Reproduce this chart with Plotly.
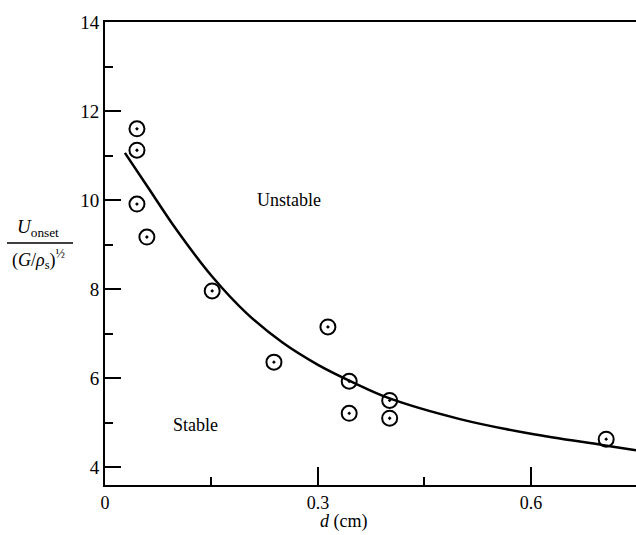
import plotly.graph_objects as go

# Measured data points
d_pts = [0.045, 0.045, 0.045, 0.059, 0.151, 0.238, 0.314, 0.344, 0.344, 0.401, 0.401, 0.706]
u_pts = [11.6, 11.12, 9.91, 9.17, 7.96, 6.36, 7.15, 5.93, 5.21, 5.5, 5.1, 4.63]

# Stability boundary curve
d_curve = [0.028, 0.06, 0.1, 0.15, 0.2, 0.25, 0.3, 0.35, 0.4, 0.5, 0.6, 0.7, 0.748]
u_curve = [11.06, 10.3, 9.35, 8.3, 7.45, 6.8, 6.3, 5.9, 5.55, 5.08, 4.75, 4.5, 4.38]

x_major = [0, 0.3, 0.6]
x_minor = [0.15, 0.45]
y_major = [4, 6, 8, 10, 12, 14]
y_minor = [5, 7, 9, 11, 13]

FONT = "Liberation Serif"
W, H = 636, 535
L, R, T, B = 105, 0, 22, 50
pw, ph = W - L - R, H - T - B


def px(xp):
    return (xp - L) / pw


def py(yp):
    return (H - B - yp) / ph


fig = go.Figure()
fig.add_trace(go.Scatter(
    x=d_curve, y=u_curve, mode="lines",
    line=dict(color="black", width=2.5, shape="spline", smoothing=1.0),
    showlegend=False, hoverinfo="skip", cliponaxis=True,
))
fig.add_trace(go.Scatter(
    x=d_pts, y=u_pts, mode="markers",
    marker=dict(symbol="circle-open-dot", size=15, color="black",
                line=dict(color="black", width=2)),
    showlegend=False, cliponaxis=False,
))

fig.update_layout(
    width=W, height=H,
    margin=dict(l=L, r=R, t=T, b=B),
    paper_bgcolor="white", plot_bgcolor="white",
    font=dict(family=FONT, size=19, color="black"),
    xaxis=dict(
        range=[0, 0.748], showgrid=False, zeroline=False,
        showline=True, linecolor="black", linewidth=2, mirror=True,
        ticks="inside", ticklen=18, tickwidth=1.5, tickcolor="black",
        tickmode="array", tickvals=x_major, ticktext=["0", "0.3", "0.6"],
        minor=dict(ticks="inside", ticklen=8, tickwidth=1.5, tickcolor="black",
                   tickmode="array", tickvals=x_minor),
        tickfont=dict(family=FONT, size=18),
    ),
    yaxis=dict(
        range=[3.6, 14], showgrid=False, zeroline=False,
        showline=True, linecolor="black", linewidth=2, mirror=False,
        ticks="inside", ticklen=16, tickwidth=1.5, tickcolor="black",
        tickmode="array", tickvals=y_major, ticktext=[str(v) for v in y_major],
        minor=dict(ticks="inside", ticklen=8, tickwidth=1.5, tickcolor="black",
                   tickmode="array", tickvals=y_minor),
        tickfont=dict(family=FONT, size=19),
    ),
)

annos = [
    dict(x=0.259, y=10.0, xref="x", yref="y", text="Unstable", size=18),
    dict(x=0.127, y=4.94, xref="x", yref="y", text="Stable", size=18),
    dict(x=px(343), y=py(521), xref="paper", yref="paper", text="<i>d</i> (cm)", size=18),
    dict(x=px(38), y=py(228), xref="paper", yref="paper",
         text="<i>U</i><sub>onset</sub>", size=19),
    dict(x=px(38), y=py(259), xref="paper", yref="paper",
         text="(<i>G</i>/<i>ρ</i><sub>s</sub>)<sup>½</sup>", size=18),
]
for a in annos:
    fig.add_annotation(x=a["x"], y=a["y"], xref=a["xref"], yref=a["yref"],
                       text=a["text"], showarrow=False,
                       xanchor="center", yanchor="middle",
                       font=dict(family=FONT, size=a["size"], color="black"))

fig.add_shape(type="line", xref="paper", yref="paper",
              x0=px(7), x1=px(73), y0=py(243), y1=py(243),
              line=dict(color="black", width=1.5))

fig.write_html("out.html")
